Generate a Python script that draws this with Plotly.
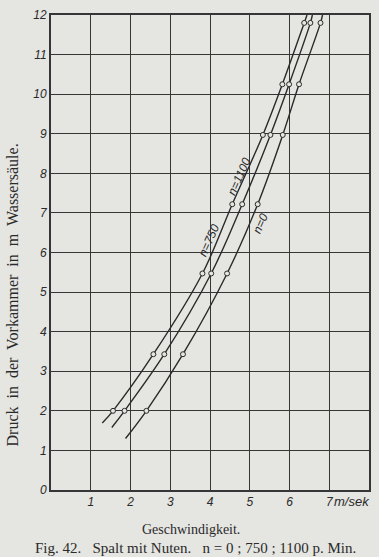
import plotly.graph_objects as go

# Measured pressures (m water column) at each point row
p_rows = [2.0, 3.43, 5.47, 7.22, 8.97, 10.25, 11.8]

# Velocities (m/sek) for each curve
v_1100 = [1.56, 2.575, 3.81, 4.56, 5.33, 5.82, 6.37]
v_750 = [1.85, 2.85, 4.03, 4.81, 5.52, 5.99, 6.525]
v_0 = [2.40, 3.32, 4.43, 5.20, 5.83, 6.24, 6.78]

# Curve extensions (start below first point, end at top of chart)
start_1100 = (1.29, 1.69)
end_1100 = (6.44, 12.0)
start_750 = (1.53, 1.58)
end_750 = (6.575, 12.0)
start_0 = (1.875, 1.30)
end_0 = (6.83, 12.0)

labels = ["n=1100", "n=750", "n=0"]
label_pos = [(4.72, 7.92), (3.98, 6.31), (5.26, 6.73)]

x_ticks = [0, 1, 2, 3, 4, 5, 6, 7, 8]
x_ticktext = ["", "1", "2", "3", "4", "5", "6", "7", ""]
y_ticks = list(range(0, 13))
y_ticktext = [str(v) for v in y_ticks]

BG = "#e5e5e1"
INK = "#2a2a2a"
GRID = "#363636"

fig = go.Figure()

curves = [(v_1100, start_1100, end_1100), (v_750, start_750, end_750), (v_0, start_0, end_0)]
for v, s, e in curves:
    xs = [s[0]] + v + [e[0]]
    ys = [s[1]] + p_rows + [e[1]]
    fig.add_trace(go.Scatter(x=xs, y=ys, mode="lines",
                             line=dict(color=INK, width=1.4, shape="spline", smoothing=1.0),
                             showlegend=False, hoverinfo="skip"))
for v, s, e in curves:
    fig.add_trace(go.Scatter(x=v, y=p_rows, mode="markers",
                             marker=dict(symbol="circle", size=5, color=BG,
                                         line=dict(color=INK, width=1)),
                             showlegend=False))

annotations = []
for txt, (lx, ly) in zip(labels, label_pos):
    annotations.append(dict(x=lx, y=ly, xref="x", yref="y", text=txt, showarrow=False,
                            textangle=-66,
                            font=dict(family="Liberation Sans", size=12, color=INK, style="italic")))

# unit next to last x tick
annotations.append(dict(x=7, y=0, xref="x", yref="y", text="m/sek", showarrow=False,
                        xanchor="left", yanchor="top", xshift=3, yshift=-2,
                        font=dict(family="Liberation Sans", size=13, color=INK, style="italic")))

annotations.append(dict(x=-0.122, y=0.41, xref="paper", yref="paper",
                        xanchor="center", yanchor="middle",
                        text="Druck\u00a0 in\u00a0 der\u00a0 Vorkammer\u00a0 in\u00a0 m\u00a0 Wassersäule.",
                        textangle=-90, showarrow=False,
                        font=dict(family="Liberation Serif", size=16, color=INK)))
annotations.append(dict(x=0.44, y=-0.084, xref="paper", yref="paper",
                        xanchor="center", yanchor="middle",
                        text="Geschwindigkeit.", showarrow=False,
                        font=dict(family="Liberation Serif", size=14, color=INK)))
annotations.append(dict(x=0.455, y=-0.1216, xref="paper", yref="paper",
                        xanchor="center", yanchor="middle",
                        text="Fig. 42.\u00a0\u00a0 Spalt mit Nuten.\u00a0\u00a0 n = 0 ; 750 ; 1100 p. Min.",
                        showarrow=False,
                        font=dict(family="Liberation Serif", size=15, color=INK)))

fig.update_layout(
    width=379, height=557,
    margin=dict(l=51, r=8, t=13, b=67),
    paper_bgcolor=BG, plot_bgcolor=BG,
    showlegend=False,
    annotations=annotations,
    xaxis=dict(range=[0, 8], tickvals=x_ticks, ticktext=x_ticktext,
               showgrid=True, gridcolor=GRID, gridwidth=1.3, zeroline=False,
               showline=True, linecolor=GRID, linewidth=1.8, mirror=True,
               ticks="", tickfont=dict(family="Liberation Sans", size=12, color=INK, style="italic")),
    yaxis=dict(range=[0, 12], tickvals=y_ticks, ticktext=y_ticktext,
               showgrid=True, gridcolor=GRID, gridwidth=1.3, zeroline=False,
               showline=True, linecolor=GRID, linewidth=1.8, mirror=True,
               ticks="", tickfont=dict(family="Liberation Sans", size=12, color=INK, style="italic")),
)

fig.write_html("out.html")
